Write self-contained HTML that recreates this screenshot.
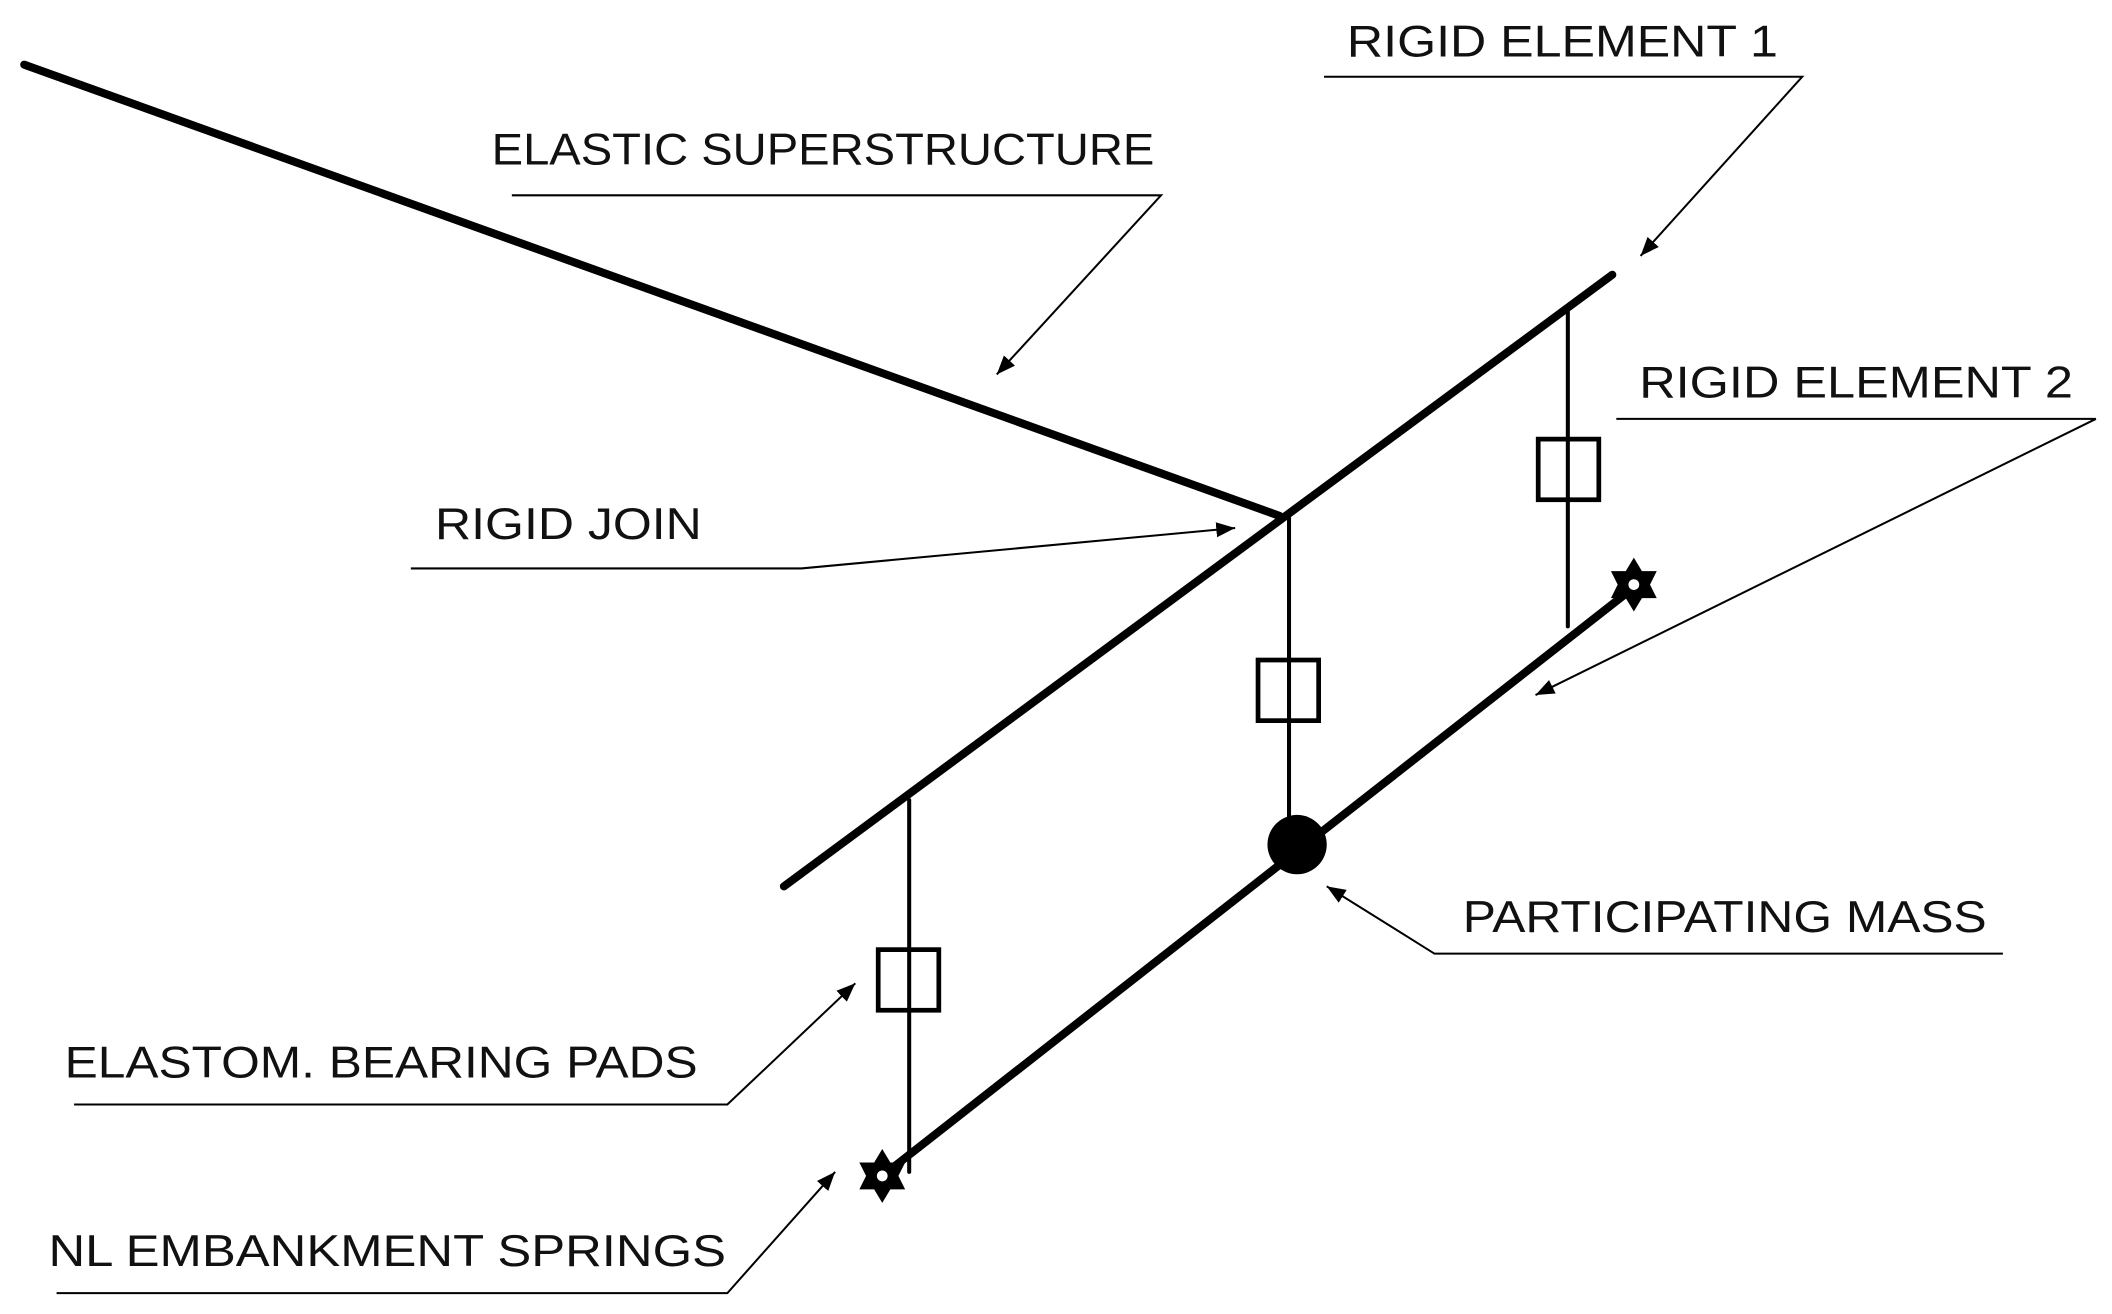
<!DOCTYPE html>
<html><head><meta charset="utf-8"><style>html,body{margin:0;padding:0;background:#fff}svg{display:block}</style></head>
<body>
<svg width="2112" height="1314" viewBox="0 0 1568 975.5" preserveAspectRatio="none" xmlns="http://www.w3.org/2000/svg">
<defs>
<marker id="a" viewBox="0 0 10 10" refX="10" refY="5" markerWidth="7" markerHeight="7" orient="auto" markerUnits="userSpaceOnUse"><path d="M0,0 L10,5 L0,10 z" fill="#000"/></marker>
<marker id="b" viewBox="0 0 10 10" refX="10" refY="5" markerWidth="14" markerHeight="14" orient="auto" markerUnits="userSpaceOnUse"><path d="M0,1 L10,5 L0,9 z" fill="#000"/></marker>
</defs>
<g stroke="#000" stroke-linecap="round" fill="none">
<line x1="18" y1="48" x2="950" y2="383" stroke-width="6"/>
<line x1="582" y1="658" x2="1197" y2="204" stroke-width="6"/>
<line x1="655" y1="873" x2="1208" y2="440" stroke-width="6"/>
<line x1="675" y1="594" x2="675" y2="870" stroke-width="3"/>
<line x1="957" y1="383" x2="957" y2="620" stroke-width="3"/>
<line x1="1164" y1="228" x2="1164" y2="465" stroke-width="3"/>
<rect x="652" y="705" width="45" height="45" stroke-width="3.5" fill="none"/>
<rect x="934" y="490" width="45" height="45" stroke-width="3.5" fill="none"/>
<rect x="1142" y="326" width="45" height="45" stroke-width="3.5" fill="none"/>
</g>
<circle cx="963" cy="627" r="22" fill="#000"/>
<g fill="#000">
<polygon points="655,853 661,863 672,863 667,873 672,883 661,883 655,893 649,883 638,883 643,873 638,863 649,863"/>
<polygon points="1213,414 1219,424 1230,424 1225,434 1230,444 1219,444 1213,454 1207,444 1196,444 1201,434 1196,424 1207,424"/>
</g>
<circle cx="655" cy="873" r="4" fill="#fff"/>
<circle cx="1213" cy="434" r="4" fill="#fff"/>
<g stroke="#000" stroke-width="1.5" fill="none">
<polyline points="983,57 1338,57 1218,190" marker-end="url(#b)"/>
<polyline points="380,145 862,145 740,278" marker-end="url(#b)"/>
<polyline points="1200,311 1556,311 1140,516" marker-end="url(#b)"/>
<polyline points="305,422 595,422 917,392" marker-end="url(#b)"/>
<polyline points="1487,708 1065,708 985,658" marker-end="url(#b)"/>
<polyline points="55,820 540,820 635,730" marker-end="url(#b)"/>
<polyline points="42,960 540,960 620,870" marker-end="url(#b)"/>
</g>
<g font-family="Liberation Sans, sans-serif" font-size="33" fill="#111">
<text x="1000" y="42" textLength="320" lengthAdjust="spacingAndGlyphs">RIGID ELEMENT 1</text>
<text x="365" y="122" textLength="492" lengthAdjust="spacingAndGlyphs">ELASTIC SUPERSTRUCTURE</text>
<text x="1217" y="295" textLength="322" lengthAdjust="spacingAndGlyphs">RIGID ELEMENT 2</text>
<text x="323" y="400" textLength="198" lengthAdjust="spacingAndGlyphs">RIGID JOIN</text>
<text x="1086" y="692" textLength="389" lengthAdjust="spacingAndGlyphs">PARTICIPATING MASS</text>
<text x="48" y="800" textLength="470" lengthAdjust="spacingAndGlyphs">ELASTOM. BEARING PADS</text>
<text x="36" y="940" textLength="503" lengthAdjust="spacingAndGlyphs">NL EMBANKMENT SPRINGS</text>
</g>
</svg>
</body></html>
